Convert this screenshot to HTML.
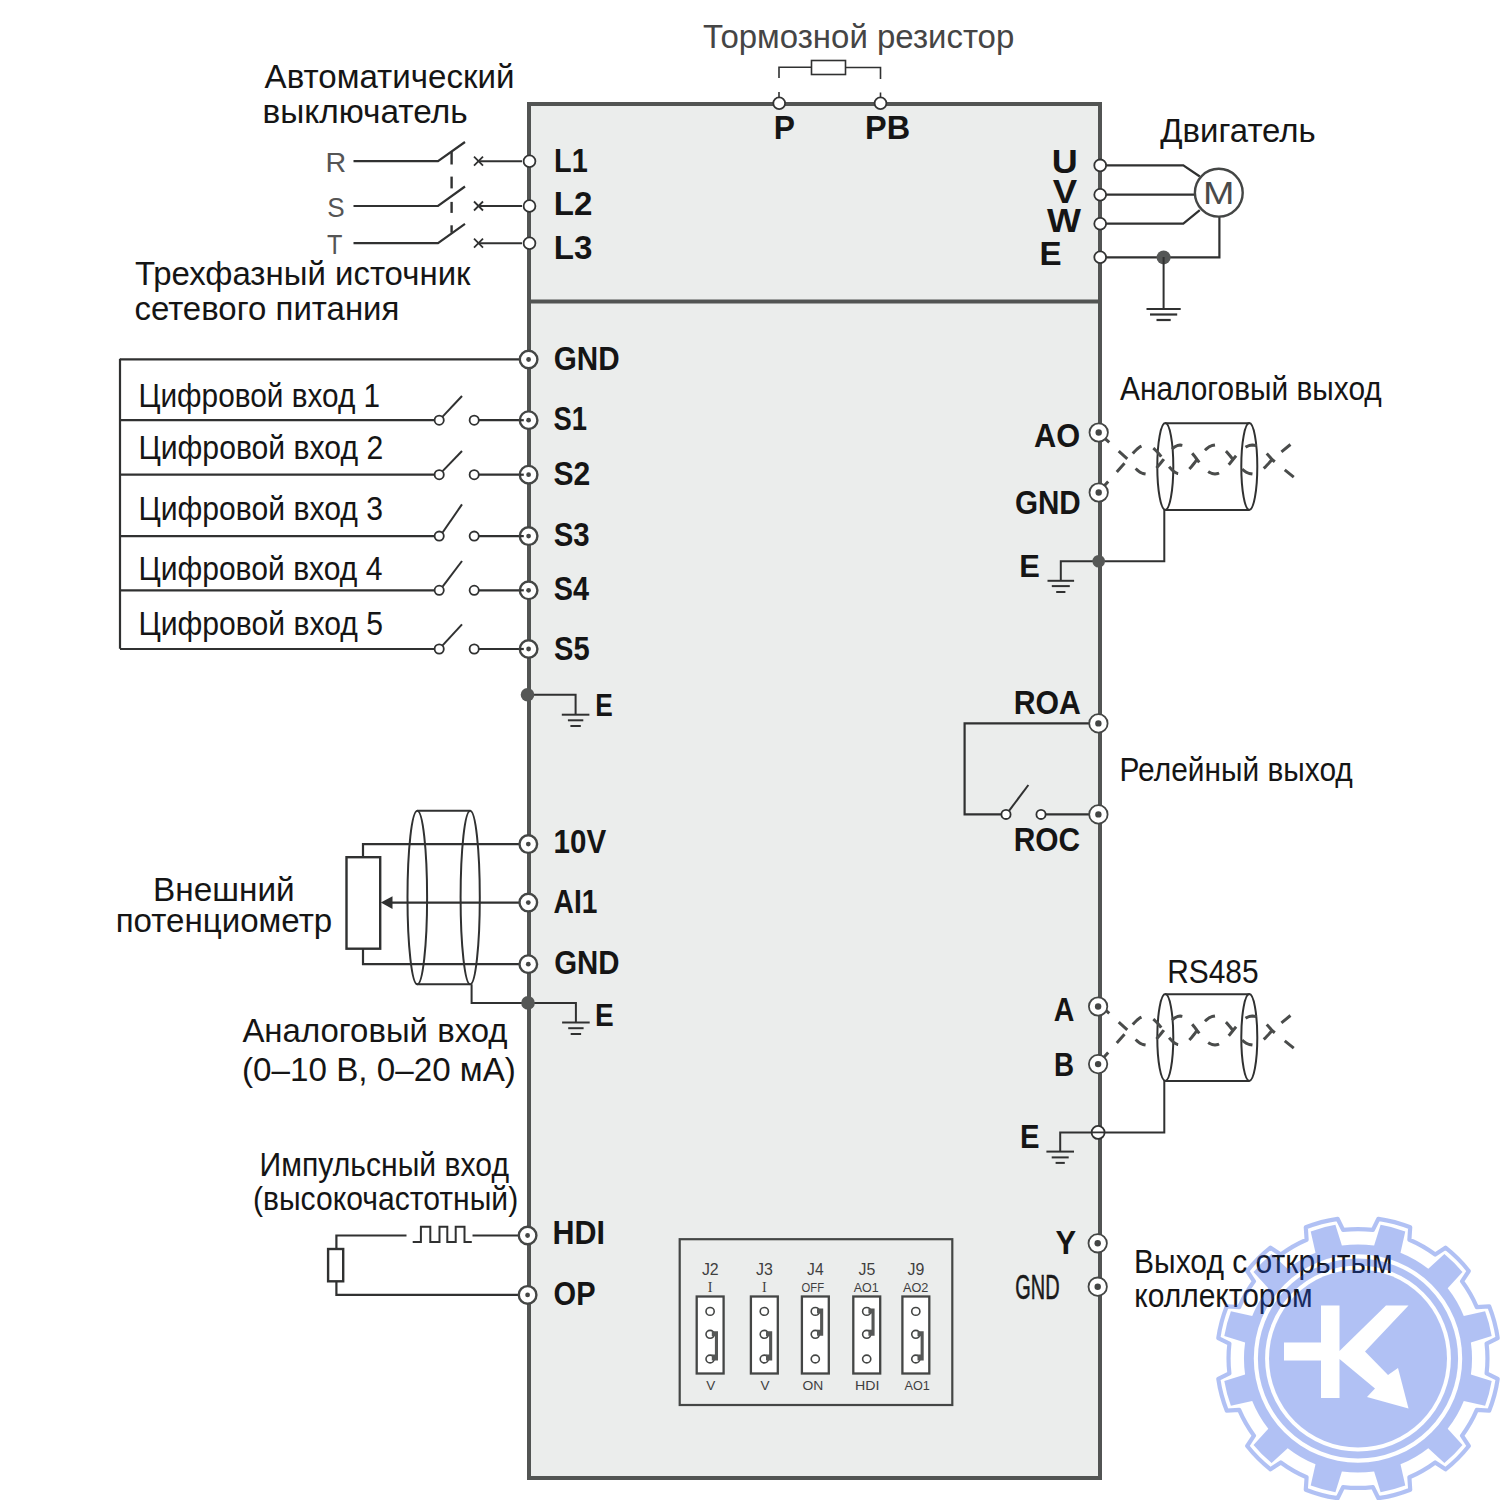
<!DOCTYPE html>
<html><head><meta charset="utf-8"><style>
html,body{margin:0;padding:0;background:#fff;}
svg{display:block;}
text{font-family:"Liberation Sans",sans-serif;}
</style></head><body>
<svg width="1500" height="1500" viewBox="0 0 1500 1500">
<rect x="529" y="104" width="571" height="1374" fill="#ebedec" stroke="#525453" stroke-width="4"/>
<path d="M531.0,301.5 L1098.0,301.5" fill="none" stroke="#525453" stroke-width="4"/>
<text x="702.9" y="47.5" font-size="33" font-weight="normal" fill="#454545" textLength="311.4" lengthAdjust="spacingAndGlyphs">Тормозной резистор</text>
<path d="M779.0,92.0 L779.0,103.0" fill="none" stroke="#303131" stroke-width="1.6"/>
<path d="M779.0,78.0 L779.0,67.3 L811.5,67.3" fill="none" stroke="#303131" stroke-width="1.6"/>
<rect x="811.5" y="60.5" width="34" height="14" fill="#fff" stroke="#303131" stroke-width="1.6"/>
<path d="M845.5,67.5 L880.5,67.5 L880.5,79.0" fill="none" stroke="#303131" stroke-width="1.6"/>
<path d="M880.5,92.5 L880.5,103.0" fill="none" stroke="#303131" stroke-width="1.6"/>
<circle cx="779.2" cy="103.3" r="5.9" fill="#fff" stroke="#333434" stroke-width="1.8"/>
<circle cx="880.5" cy="103.3" r="5.9" fill="#fff" stroke="#333434" stroke-width="1.8"/>
<text x="773.8" y="139.0" font-size="33" font-weight="bold" fill="#151515" textLength="21.2" lengthAdjust="spacingAndGlyphs">P</text>
<text x="865.0" y="139.0" font-size="33" font-weight="bold" fill="#151515" textLength="45.1" lengthAdjust="spacingAndGlyphs">PB</text>
<text x="264.6" y="87.6" font-size="33" font-weight="normal" fill="#151515" textLength="249.8" lengthAdjust="spacingAndGlyphs">Автоматический</text>
<text x="262.5" y="123.0" font-size="33" font-weight="normal" fill="#151515" textLength="205.1" lengthAdjust="spacingAndGlyphs">выключатель</text>
<text x="325.6" y="172.0" font-size="27" font-weight="normal" fill="#555" textLength="20.7" lengthAdjust="spacingAndGlyphs">R</text>
<text x="327.3" y="216.5" font-size="27" font-weight="normal" fill="#555" textLength="17.4" lengthAdjust="spacingAndGlyphs">S</text>
<text x="327.0" y="253.5" font-size="27" font-weight="normal" fill="#555" textLength="15.4" lengthAdjust="spacingAndGlyphs">T</text>
<path d="M353.5,161.2 L438.0,161.2 L465.0,142.0" fill="none" stroke="#303131" stroke-width="2.2"/>
<path d="M474.0,156.7 L483.0,165.7" fill="none" stroke="#303131" stroke-width="1.8"/>
<path d="M474.0,165.7 L483.0,156.7" fill="none" stroke="#303131" stroke-width="1.8"/>
<path d="M478.5,161.2 L522.0,161.2" fill="none" stroke="#303131" stroke-width="2"/>
<path d="M353.5,206.0 L438.0,206.0 L465.0,186.5" fill="none" stroke="#303131" stroke-width="2.2"/>
<path d="M474.0,201.5 L483.0,210.5" fill="none" stroke="#303131" stroke-width="1.8"/>
<path d="M474.0,210.5 L483.0,201.5" fill="none" stroke="#303131" stroke-width="1.8"/>
<path d="M478.5,206.0 L522.0,206.0" fill="none" stroke="#303131" stroke-width="2"/>
<path d="M353.5,243.2 L438.0,243.2 L465.0,223.9" fill="none" stroke="#303131" stroke-width="2.2"/>
<path d="M474.0,238.7 L483.0,247.7" fill="none" stroke="#303131" stroke-width="1.8"/>
<path d="M474.0,247.7 L483.0,238.7" fill="none" stroke="#303131" stroke-width="1.8"/>
<path d="M478.5,243.2 L522.0,243.2" fill="none" stroke="#303131" stroke-width="2"/>
<path d="M451.6,152.0 L451.6,164.5" fill="none" stroke="#303131" stroke-width="2.4"/>
<path d="M451.6,176.6 L451.6,188.4" fill="none" stroke="#303131" stroke-width="2.4"/>
<path d="M451.6,201.9 L451.6,212.9" fill="none" stroke="#303131" stroke-width="2.4"/>
<path d="M451.6,225.3 L451.6,232.7" fill="none" stroke="#303131" stroke-width="2.4"/>
<text x="134.9" y="285.0" font-size="33" font-weight="normal" fill="#151515" textLength="335.6" lengthAdjust="spacingAndGlyphs">Трехфазный источник</text>
<text x="134.4" y="320.0" font-size="33" font-weight="normal" fill="#151515" textLength="265.0" lengthAdjust="spacingAndGlyphs">сетевого питания</text>
<circle cx="529.5" cy="161.2" r="5.9" fill="#fff" stroke="#333434" stroke-width="1.8"/>
<circle cx="529.5" cy="206.0" r="5.9" fill="#fff" stroke="#333434" stroke-width="1.8"/>
<circle cx="529.5" cy="243.2" r="5.9" fill="#fff" stroke="#333434" stroke-width="1.8"/>
<text x="554.1" y="171.8" font-size="33" font-weight="bold" fill="#151515" textLength="33.7" lengthAdjust="spacingAndGlyphs">L1</text>
<text x="553.8" y="215.4" font-size="33" font-weight="bold" fill="#151515" textLength="38.6" lengthAdjust="spacingAndGlyphs">L2</text>
<text x="553.8" y="259.3" font-size="33" font-weight="bold" fill="#151515" textLength="38.6" lengthAdjust="spacingAndGlyphs">L3</text>
<text x="1160.3" y="142.0" font-size="33" font-weight="normal" fill="#151515" textLength="155.4" lengthAdjust="spacingAndGlyphs">Двигатель</text>
<path d="M1100.0,165.4 L1183.3,165.4 L1199.8,176.5" fill="none" stroke="#303131" stroke-width="2.2"/>
<path d="M1100.0,194.7 L1194.9,194.7" fill="none" stroke="#303131" stroke-width="2.2"/>
<path d="M1100.0,223.7 L1183.3,223.7 L1199.8,210.2" fill="none" stroke="#303131" stroke-width="2.2"/>
<path d="M1219.4,216.6 L1219.4,257.4 L1100.0,257.4" fill="none" stroke="#303131" stroke-width="2.2"/>
<circle cx="1218.8" cy="192.7" r="23.9" fill="#fff" stroke="#444645" stroke-width="2.4"/>
<text x="1203.0" y="204.3" font-size="31" font-weight="normal" fill="#4a4a4a" textLength="31.4" lengthAdjust="spacingAndGlyphs">M</text>
<circle cx="1163.6" cy="257.4" r="7" fill="#555756" stroke="none" stroke-width="0"/>
<path d="M1163.6,257.0 L1163.6,309.0" fill="none" stroke="#303131" stroke-width="2"/>
<path d="M1146.5,309.0 L1180.7,309.0" fill="none" stroke="#303131" stroke-width="2.2"/>
<path d="M1150.0,314.5 L1177.2,314.5" fill="none" stroke="#303131" stroke-width="2.2"/>
<path d="M1156.5,320.0 L1170.7,320.0" fill="none" stroke="#303131" stroke-width="2.2"/>
<circle cx="1100.2" cy="165.4" r="5.9" fill="#fff" stroke="#333434" stroke-width="1.8"/>
<circle cx="1100.2" cy="194.7" r="5.9" fill="#fff" stroke="#333434" stroke-width="1.8"/>
<circle cx="1100.2" cy="223.7" r="5.9" fill="#fff" stroke="#333434" stroke-width="1.8"/>
<circle cx="1100.2" cy="257.3" r="5.9" fill="#fff" stroke="#333434" stroke-width="1.8"/>
<text x="1051.8" y="173.0" font-size="33" font-weight="bold" fill="#151515" textLength="26.0" lengthAdjust="spacingAndGlyphs">U</text>
<text x="1052.7" y="203.0" font-size="33" font-weight="bold" fill="#151515" textLength="24.4" lengthAdjust="spacingAndGlyphs">V</text>
<text x="1046.9" y="232.0" font-size="33" font-weight="bold" fill="#151515" textLength="34.0" lengthAdjust="spacingAndGlyphs">W</text>
<text x="1039.4" y="265.4" font-size="33" font-weight="bold" fill="#151515" textLength="22.1" lengthAdjust="spacingAndGlyphs">E</text>
<path d="M120.0,358.8 L120.0,648.7" fill="none" stroke="#303131" stroke-width="2.2"/>
<path d="M120.0,359.3 L519.0,359.3" fill="none" stroke="#303131" stroke-width="2.2"/>
<text x="553.8" y="370.4" font-size="33" font-weight="bold" fill="#151515" textLength="65.8" lengthAdjust="spacingAndGlyphs">GND</text>
<path d="M120.0,420.2 L434.5,420.2" fill="none" stroke="#303131" stroke-width="2.2"/>
<path d="M442.6,416.6 L462.0,396.0" fill="none" stroke="#303131" stroke-width="2"/>
<circle cx="439.2" cy="420.2" r="4.6" fill="#fff" stroke="#303131" stroke-width="1.8"/>
<circle cx="474.2" cy="420.2" r="4.6" fill="#fff" stroke="#303131" stroke-width="1.8"/>
<path d="M478.8,420.2 L527.0,420.2" fill="none" stroke="#303131" stroke-width="2.2"/>
<text x="138.4" y="407.1" font-size="33" font-weight="normal" fill="#151515" textLength="241.8" lengthAdjust="spacingAndGlyphs">Цифровой вход 1</text>
<path d="M120.0,474.7 L434.5,474.7" fill="none" stroke="#303131" stroke-width="2.2"/>
<path d="M442.6,471.1 L462.0,451.0" fill="none" stroke="#303131" stroke-width="2"/>
<circle cx="439.2" cy="474.7" r="4.6" fill="#fff" stroke="#303131" stroke-width="1.8"/>
<circle cx="474.2" cy="474.7" r="4.6" fill="#fff" stroke="#303131" stroke-width="1.8"/>
<path d="M478.8,474.7 L527.0,474.7" fill="none" stroke="#303131" stroke-width="2.2"/>
<text x="138.4" y="458.9" font-size="33" font-weight="normal" fill="#151515" textLength="244.8" lengthAdjust="spacingAndGlyphs">Цифровой вход 2</text>
<path d="M120.0,536.1 L434.5,536.1" fill="none" stroke="#303131" stroke-width="2.2"/>
<path d="M442.6,532.5 L462.0,504.4" fill="none" stroke="#303131" stroke-width="2"/>
<circle cx="439.2" cy="536.1" r="4.6" fill="#fff" stroke="#303131" stroke-width="1.8"/>
<circle cx="474.2" cy="536.1" r="4.6" fill="#fff" stroke="#303131" stroke-width="1.8"/>
<path d="M478.8,536.1 L527.0,536.1" fill="none" stroke="#303131" stroke-width="2.2"/>
<text x="138.4" y="520.0" font-size="33" font-weight="normal" fill="#151515" textLength="244.6" lengthAdjust="spacingAndGlyphs">Цифровой вход 3</text>
<path d="M120.0,590.3 L434.5,590.3" fill="none" stroke="#303131" stroke-width="2.2"/>
<path d="M442.6,586.7 L462.0,561.0" fill="none" stroke="#303131" stroke-width="2"/>
<circle cx="439.2" cy="590.3" r="4.6" fill="#fff" stroke="#303131" stroke-width="1.8"/>
<circle cx="474.2" cy="590.3" r="4.6" fill="#fff" stroke="#303131" stroke-width="1.8"/>
<path d="M478.8,590.3 L527.0,590.3" fill="none" stroke="#303131" stroke-width="2.2"/>
<text x="138.4" y="579.6" font-size="33" font-weight="normal" fill="#151515" textLength="244.1" lengthAdjust="spacingAndGlyphs">Цифровой вход 4</text>
<path d="M120.0,649.0 L434.5,649.0" fill="none" stroke="#303131" stroke-width="2.2"/>
<path d="M442.6,645.4 L462.0,624.4" fill="none" stroke="#303131" stroke-width="2"/>
<circle cx="439.2" cy="649.0" r="4.6" fill="#fff" stroke="#303131" stroke-width="1.8"/>
<circle cx="474.2" cy="649.0" r="4.6" fill="#fff" stroke="#303131" stroke-width="1.8"/>
<path d="M478.8,649.0 L527.0,649.0" fill="none" stroke="#303131" stroke-width="2.2"/>
<text x="138.4" y="634.7" font-size="33" font-weight="normal" fill="#151515" textLength="244.6" lengthAdjust="spacingAndGlyphs">Цифровой вход 5</text>
<circle cx="528.6" cy="359.5" r="8.8" fill="#fff" stroke="#444645" stroke-width="2.4"/>
<circle cx="528.6" cy="359.5" r="2.4" fill="#444645" stroke="none" stroke-width="0"/>
<circle cx="528.6" cy="420.2" r="8.8" fill="#fff" stroke="#444645" stroke-width="2.4"/>
<circle cx="528.6" cy="420.2" r="2.4" fill="#444645" stroke="none" stroke-width="0"/>
<path d="M519.8,420.2 L523.8,420.2" fill="none" stroke="#303131" stroke-width="2.2"/>
<circle cx="528.6" cy="474.7" r="8.8" fill="#fff" stroke="#444645" stroke-width="2.4"/>
<circle cx="528.6" cy="474.7" r="2.4" fill="#444645" stroke="none" stroke-width="0"/>
<path d="M519.8,474.7 L523.8,474.7" fill="none" stroke="#303131" stroke-width="2.2"/>
<circle cx="528.6" cy="536.1" r="8.8" fill="#fff" stroke="#444645" stroke-width="2.4"/>
<circle cx="528.6" cy="536.1" r="2.4" fill="#444645" stroke="none" stroke-width="0"/>
<path d="M519.8,536.1 L523.8,536.1" fill="none" stroke="#303131" stroke-width="2.2"/>
<circle cx="528.6" cy="590.3" r="8.8" fill="#fff" stroke="#444645" stroke-width="2.4"/>
<circle cx="528.6" cy="590.3" r="2.4" fill="#444645" stroke="none" stroke-width="0"/>
<path d="M519.8,590.3 L523.8,590.3" fill="none" stroke="#303131" stroke-width="2.2"/>
<circle cx="528.6" cy="649.0" r="8.8" fill="#fff" stroke="#444645" stroke-width="2.4"/>
<circle cx="528.6" cy="649.0" r="2.4" fill="#444645" stroke="none" stroke-width="0"/>
<path d="M519.8,649.0 L523.8,649.0" fill="none" stroke="#303131" stroke-width="2.2"/>
<text x="553.6" y="430.3" font-size="33" font-weight="bold" fill="#151515" textLength="33.5" lengthAdjust="spacingAndGlyphs">S1</text>
<text x="553.5" y="485.0" font-size="33" font-weight="bold" fill="#151515" textLength="36.8" lengthAdjust="spacingAndGlyphs">S2</text>
<text x="553.8" y="545.5" font-size="33" font-weight="bold" fill="#151515" textLength="35.9" lengthAdjust="spacingAndGlyphs">S3</text>
<text x="553.8" y="600.0" font-size="33" font-weight="bold" fill="#151515" textLength="35.3" lengthAdjust="spacingAndGlyphs">S4</text>
<text x="554.1" y="659.5" font-size="33" font-weight="bold" fill="#151515" textLength="35.6" lengthAdjust="spacingAndGlyphs">S5</text>
<path d="M527.0,694.7 L575.6,694.7 L575.6,714.7" fill="none" stroke="#303131" stroke-width="2"/>
<path d="M561.8,714.7 L589.4,714.7" fill="none" stroke="#303131" stroke-width="2"/>
<path d="M567.9,720.3 L583.3,720.3" fill="none" stroke="#303131" stroke-width="2"/>
<path d="M570.4,726.0 L580.8,726.0" fill="none" stroke="#303131" stroke-width="2"/>
<circle cx="527.5" cy="694.7" r="6.8" fill="#555756" stroke="none" stroke-width="0"/>
<text x="595.3" y="716.4" font-size="31.5" font-weight="bold" fill="#151515" textLength="17.5" lengthAdjust="spacingAndGlyphs">E</text>
<path d="M417.3,810.7 L470.2,810.7 M417.3,984.3 L470.2,984.3" stroke="#303131" stroke-width="2" fill="none"/>
<ellipse cx="417.3" cy="897.5" rx="9.8" ry="86.8" fill="none" stroke="#303131" stroke-width="2"/>
<ellipse cx="470.2" cy="897.5" rx="9.6" ry="86.8" fill="none" stroke="#303131" stroke-width="2"/>
<path d="M363.0,857.2 L363.0,844.1 L520.0,844.1" fill="none" stroke="#303131" stroke-width="2.2"/>
<path d="M363.0,948.7 L363.0,964.2 L520.0,964.2" fill="none" stroke="#303131" stroke-width="2.2"/>
<path d="M392.0,902.6 L520.0,902.6" fill="none" stroke="#303131" stroke-width="2.2"/>
<path d="M380.8,902.6 L392.5,896.2 L392.5,909 Z" fill="#303131"/>
<rect x="346.5" y="857.2" width="33.7" height="91.5" fill="#fff" stroke="#303131" stroke-width="2.4"/>
<path d="M471.6,984.3 L471.6,1002.9 L527.0,1002.9" fill="none" stroke="#303131" stroke-width="2"/>
<path d="M527.0,1002.9 L575.9,1002.9 L575.9,1022.5" fill="none" stroke="#303131" stroke-width="2"/>
<path d="M562.1,1022.5 L589.7,1022.5" fill="none" stroke="#303131" stroke-width="2"/>
<path d="M568.2,1028.2 L583.6,1028.2" fill="none" stroke="#303131" stroke-width="2"/>
<path d="M570.7,1034.0 L581.1,1034.0" fill="none" stroke="#303131" stroke-width="2"/>
<circle cx="528.0" cy="1002.9" r="6.8" fill="#555756" stroke="none" stroke-width="0"/>
<circle cx="528.3" cy="844.1" r="8.8" fill="#fff" stroke="#444645" stroke-width="2.4"/>
<circle cx="528.3" cy="844.1" r="2.4" fill="#444645" stroke="none" stroke-width="0"/>
<circle cx="528.3" cy="902.6" r="8.8" fill="#fff" stroke="#444645" stroke-width="2.4"/>
<circle cx="528.3" cy="902.6" r="2.4" fill="#444645" stroke="none" stroke-width="0"/>
<circle cx="528.3" cy="964.2" r="8.8" fill="#fff" stroke="#444645" stroke-width="2.4"/>
<circle cx="528.3" cy="964.2" r="2.4" fill="#444645" stroke="none" stroke-width="0"/>
<text x="553.5" y="853.0" font-size="33" font-weight="bold" fill="#151515" textLength="52.6" lengthAdjust="spacingAndGlyphs">10V</text>
<text x="553.6" y="913.0" font-size="33" font-weight="bold" fill="#151515" textLength="43.8" lengthAdjust="spacingAndGlyphs">AI1</text>
<text x="554.2" y="973.9" font-size="33" font-weight="bold" fill="#151515" textLength="65.3" lengthAdjust="spacingAndGlyphs">GND</text>
<text x="595.0" y="1025.6" font-size="31.5" font-weight="bold" fill="#151515" textLength="18.7" lengthAdjust="spacingAndGlyphs">E</text>
<text x="153.0" y="900.7" font-size="33" font-weight="normal" fill="#151515" textLength="141.7" lengthAdjust="spacingAndGlyphs">Внешний</text>
<text x="115.7" y="931.7" font-size="33" font-weight="normal" fill="#151515" textLength="216.5" lengthAdjust="spacingAndGlyphs">потенциометр</text>
<text x="242.4" y="1042.0" font-size="33" font-weight="normal" fill="#151515" textLength="265.2" lengthAdjust="spacingAndGlyphs">Аналоговый вход</text>
<text x="242.0" y="1080.5" font-size="33" font-weight="normal" fill="#151515" textLength="273.9" lengthAdjust="spacingAndGlyphs">(0–10 В, 0–20 мА)</text>
<text x="259.6" y="1175.6" font-size="33" font-weight="normal" fill="#151515" textLength="249.4" lengthAdjust="spacingAndGlyphs">Импульсный вход</text>
<text x="252.9" y="1210.0" font-size="33" font-weight="normal" fill="#151515" textLength="265.3" lengthAdjust="spacingAndGlyphs">(высокочастотный)</text>
<path d="M472.5,1235.5 L520.0,1235.5" fill="none" stroke="#303131" stroke-width="2.2"/>
<path d="M406.5,1235.5 L336.4,1235.5 L336.4,1249.0" fill="none" stroke="#303131" stroke-width="2.2"/>
<path d="M336.4,1281.3 L336.4,1294.9 L520.0,1294.9" fill="none" stroke="#303131" stroke-width="2.2"/>
<rect x="328.1" y="1249" width="15.1" height="32.3" fill="#fff" stroke="#303131" stroke-width="2.4"/>
<path d="M412.7,1242.1 L420.9,1242.1 L420.9,1226.7 L430.3,1226.7 L430.3,1242.1 L439.5,1242.1 L439.5,1226.7 L447.3,1226.7 L447.3,1242.1 L455.7,1242.1 L455.7,1226.7 L464.5,1226.7 L464.5,1242.1 L471.8,1242.1" fill="none" stroke="#303131" stroke-width="2"/>
<circle cx="527.6" cy="1235.5" r="8.8" fill="#fff" stroke="#444645" stroke-width="2.4"/>
<circle cx="527.6" cy="1235.5" r="2.4" fill="#444645" stroke="none" stroke-width="0"/>
<circle cx="527.6" cy="1294.9" r="8.8" fill="#fff" stroke="#444645" stroke-width="2.4"/>
<circle cx="527.6" cy="1294.9" r="2.4" fill="#444645" stroke="none" stroke-width="0"/>
<text x="552.6" y="1244.0" font-size="33" font-weight="bold" fill="#151515" textLength="52.5" lengthAdjust="spacingAndGlyphs">HDI</text>
<text x="553.6" y="1304.6" font-size="33" font-weight="bold" fill="#151515" textLength="41.9" lengthAdjust="spacingAndGlyphs">OP</text>
<rect x="679.7" y="1239.2" width="272.6" height="165.8" fill="none" stroke="#444645" stroke-width="2.2"/>
<rect x="696.7" y="1296.5" width="26.9" height="77" fill="#fff" stroke="#444645" stroke-width="2.3"/>
<ellipse cx="710.1" cy="1311.4" rx="4.1" ry="3.9" fill="#fff" stroke="#444645" stroke-width="1.6"/>
<ellipse cx="710.1" cy="1334.3" rx="4.1" ry="3.9" fill="#fff" stroke="#444645" stroke-width="1.6"/>
<ellipse cx="710.1" cy="1359" rx="4.1" ry="3.9" fill="#fff" stroke="#444645" stroke-width="1.6"/>
<path d="M711.8,1331.3 H718.0 V1360.5 H711.8 V1354.5 H714.9 V1336.3 H711.8 Z" fill="#555756"/>
<text x="701.9" y="1274.7" font-size="16.5" font-weight="normal" fill="#3f3f3f" textLength="16.8" lengthAdjust="spacingAndGlyphs">J2</text>
<rect x="750.9" y="1296.5" width="26.9" height="77" fill="#fff" stroke="#444645" stroke-width="2.3"/>
<ellipse cx="764.3" cy="1311.4" rx="4.1" ry="3.9" fill="#fff" stroke="#444645" stroke-width="1.6"/>
<ellipse cx="764.3" cy="1334.3" rx="4.1" ry="3.9" fill="#fff" stroke="#444645" stroke-width="1.6"/>
<ellipse cx="764.3" cy="1359" rx="4.1" ry="3.9" fill="#fff" stroke="#444645" stroke-width="1.6"/>
<path d="M766.0,1331.3 H772.2 V1360.5 H766.0 V1354.5 H769.1 V1336.3 H766.0 Z" fill="#555756"/>
<text x="756.1" y="1274.7" font-size="16.5" font-weight="normal" fill="#3f3f3f" textLength="16.8" lengthAdjust="spacingAndGlyphs">J3</text>
<rect x="801.9" y="1296.5" width="26.9" height="77" fill="#fff" stroke="#444645" stroke-width="2.3"/>
<ellipse cx="815.3" cy="1311.4" rx="4.1" ry="3.9" fill="#fff" stroke="#444645" stroke-width="1.6"/>
<ellipse cx="815.3" cy="1334.3" rx="4.1" ry="3.9" fill="#fff" stroke="#444645" stroke-width="1.6"/>
<ellipse cx="815.3" cy="1359" rx="4.1" ry="3.9" fill="#fff" stroke="#444645" stroke-width="1.6"/>
<path d="M817.0,1308.4 H823.2 V1335.8 H817.0 V1329.8 H820.1 V1313.4 H817.0 Z" fill="#555756"/>
<text x="807.1" y="1274.7" font-size="16.5" font-weight="normal" fill="#3f3f3f" textLength="16.5" lengthAdjust="spacingAndGlyphs">J4</text>
<rect x="853.3" y="1296.5" width="26.9" height="77" fill="#fff" stroke="#444645" stroke-width="2.3"/>
<ellipse cx="866.7" cy="1311.4" rx="4.1" ry="3.9" fill="#fff" stroke="#444645" stroke-width="1.6"/>
<ellipse cx="866.7" cy="1334.3" rx="4.1" ry="3.9" fill="#fff" stroke="#444645" stroke-width="1.6"/>
<ellipse cx="866.7" cy="1359" rx="4.1" ry="3.9" fill="#fff" stroke="#444645" stroke-width="1.6"/>
<path d="M868.4,1308.4 H874.6 V1335.8 H868.4 V1329.8 H871.5 V1313.4 H868.4 Z" fill="#555756"/>
<text x="858.5" y="1274.7" font-size="16.5" font-weight="normal" fill="#3f3f3f" textLength="16.8" lengthAdjust="spacingAndGlyphs">J5</text>
<rect x="902.4" y="1296.5" width="26.9" height="77" fill="#fff" stroke="#444645" stroke-width="2.3"/>
<ellipse cx="915.8" cy="1311.4" rx="4.1" ry="3.9" fill="#fff" stroke="#444645" stroke-width="1.6"/>
<ellipse cx="915.8" cy="1334.3" rx="4.1" ry="3.9" fill="#fff" stroke="#444645" stroke-width="1.6"/>
<ellipse cx="915.8" cy="1359" rx="4.1" ry="3.9" fill="#fff" stroke="#444645" stroke-width="1.6"/>
<path d="M917.5,1331.3 H923.7 V1360.5 H917.5 V1354.5 H920.6 V1336.3 H917.5 Z" fill="#555756"/>
<text x="907.6" y="1274.7" font-size="16.5" font-weight="normal" fill="#3f3f3f" textLength="16.8" lengthAdjust="spacingAndGlyphs">J9</text>
<text x="710.1" y="1292.3" font-size="14" font-family="Liberation Serif" fill="#3f3f3f" text-anchor="middle" style="font-family:Liberation Serif">I</text>
<text x="764.3" y="1292.3" font-size="14" font-family="Liberation Serif" fill="#3f3f3f" text-anchor="middle" style="font-family:Liberation Serif">I</text>
<text x="801.6" y="1291.6" font-size="13.7" font-weight="normal" fill="#3f3f3f" textLength="22.5" lengthAdjust="spacingAndGlyphs">OFF</text>
<text x="853.7" y="1291.6" font-size="13.7" font-weight="normal" fill="#3f3f3f" textLength="24.9" lengthAdjust="spacingAndGlyphs">AO1</text>
<text x="903.0" y="1291.6" font-size="13.7" font-weight="normal" fill="#3f3f3f" textLength="25.4" lengthAdjust="spacingAndGlyphs">AO2</text>
<text x="706.2" y="1390.1" font-size="13.7" font-weight="normal" fill="#3f3f3f" textLength="9.0" lengthAdjust="spacingAndGlyphs">V</text>
<text x="760.4" y="1390.1" font-size="13.7" font-weight="normal" fill="#3f3f3f" textLength="9.0" lengthAdjust="spacingAndGlyphs">V</text>
<text x="802.5" y="1390.1" font-size="13.7" font-weight="normal" fill="#3f3f3f" textLength="20.8" lengthAdjust="spacingAndGlyphs">ON</text>
<text x="855.0" y="1390.1" font-size="13.7" font-weight="normal" fill="#3f3f3f" textLength="24.4" lengthAdjust="spacingAndGlyphs">HDI</text>
<text x="904.5" y="1390.1" font-size="13.7" font-weight="normal" fill="#3f3f3f" textLength="25.3" lengthAdjust="spacingAndGlyphs">AO1</text>
<text x="1120.0" y="400.0" font-size="33" font-weight="normal" fill="#151515" textLength="261.8" lengthAdjust="spacingAndGlyphs">Аналоговый выход</text>
<path d="M1165.3,423.2 L1249.3,423.2 M1165.3,509.9 L1249.3,509.9" stroke="#303131" stroke-width="2" fill="none"/>
<ellipse cx="1165.3" cy="466.5" rx="8" ry="43.4" fill="none" stroke="#303131" stroke-width="2"/>
<ellipse cx="1249.3" cy="466.5" rx="8" ry="43.4" fill="none" stroke="#303131" stroke-width="2"/>
<path d="M1098.3,432.5 L1128.0,459.5 L1131.0,463.3 L1133.9,466.8 L1136.9,469.8 L1139.8,472.1 L1142.8,473.5 L1145.8,474.0 L1148.7,473.5 L1151.7,472.1 L1154.6,469.8 L1157.6,466.8 L1160.5,463.3 L1163.5,459.5 L1166.3,455.7 L1169.1,452.2 L1171.9,449.2 L1174.7,446.9 L1177.5,445.5 L1180.2,445.0 L1183.0,445.5 L1185.8,446.9 L1188.6,449.2 L1191.4,452.2 L1194.2,455.7 L1197.0,459.5 L1200.0,463.3 L1203.0,466.8 L1206.0,469.8 L1209.0,472.1 L1212.0,473.5 L1215.0,474.0 L1218.0,473.5 L1221.0,472.1 L1224.0,469.8 L1227.0,466.8 L1230.0,463.3 L1233.0,459.5 L1236.2,455.7 L1239.5,452.2 L1242.8,449.2 L1246.0,446.9 L1249.2,445.5 L1252.5,445.0 L1255.8,445.5 L1259.0,446.9 L1262.2,449.2 L1265.5,452.2 L1268.8,455.7 L1272.0,459.5 L1298.5,481.0" fill="none" stroke="#4a4c4b" stroke-width="3" stroke-dasharray="11.6 12.8" stroke-dashoffset="21.2" stroke-linejoin="round"/>
<path d="M1098.3,492.5 L1128.0,459.5 L1131.0,455.7 L1133.9,452.2 L1136.9,449.2 L1139.8,446.9 L1142.8,445.5 L1145.8,445.0 L1148.7,445.5 L1151.7,446.9 L1154.6,449.2 L1157.6,452.2 L1160.5,455.7 L1163.5,459.5 L1166.3,463.3 L1169.1,466.8 L1171.9,469.8 L1174.7,472.1 L1177.5,473.5 L1180.2,474.0 L1183.0,473.5 L1185.8,472.1 L1188.6,469.8 L1191.4,466.8 L1194.2,463.3 L1197.0,459.5 L1200.0,455.7 L1203.0,452.2 L1206.0,449.2 L1209.0,446.9 L1212.0,445.5 L1215.0,445.0 L1218.0,445.5 L1221.0,446.9 L1224.0,449.2 L1227.0,452.2 L1230.0,455.7 L1233.0,459.5 L1236.2,463.3 L1239.5,466.8 L1242.8,469.8 L1246.0,472.1 L1249.2,473.5 L1252.5,474.0 L1255.8,473.5 L1259.0,472.1 L1262.2,469.8 L1265.5,466.8 L1268.8,463.3 L1272.0,459.5 L1298.5,438.0" fill="none" stroke="#4a4c4b" stroke-width="3" stroke-dasharray="11.6 12.8" stroke-dashoffset="21.2" stroke-linejoin="round"/>
<path d="M1164.3,509.9 L1164.3,561.3 L1100.0,561.3" fill="none" stroke="#303131" stroke-width="2"/>
<path d="M1100.0,561.3 L1060.8,561.3 L1060.8,580.8" fill="none" stroke="#303131" stroke-width="2"/>
<path d="M1047.5,580.8 L1074.1,580.8" fill="none" stroke="#303131" stroke-width="2"/>
<path d="M1051.8,586.1 L1069.8,586.1" fill="none" stroke="#303131" stroke-width="2"/>
<path d="M1056.2,592.0 L1065.4,592.0" fill="none" stroke="#303131" stroke-width="2"/>
<circle cx="1098.7" cy="561.3" r="6.3" fill="#555756" stroke="none" stroke-width="0"/>
<circle cx="1098.7" cy="432.5" r="9.2" fill="#fff" stroke="#444645" stroke-width="1.8"/>
<circle cx="1098.7" cy="432.5" r="3.2" fill="#444645" stroke="none" stroke-width="0"/>
<circle cx="1098.7" cy="492.5" r="9.2" fill="#fff" stroke="#444645" stroke-width="1.8"/>
<circle cx="1098.7" cy="492.5" r="3.2" fill="#444645" stroke="none" stroke-width="0"/>
<text x="1034.0" y="446.7" font-size="33" font-weight="bold" fill="#151515" textLength="46.1" lengthAdjust="spacingAndGlyphs">AO</text>
<text x="1014.9" y="514.1" font-size="33" font-weight="bold" fill="#151515" textLength="65.8" lengthAdjust="spacingAndGlyphs">GND</text>
<text x="1019.3" y="577.3" font-size="31.5" font-weight="bold" fill="#151515" textLength="20.6" lengthAdjust="spacingAndGlyphs">E</text>
<path d="M1090.0,723.4 L964.6,723.4 L964.6,814.4 L1001.4,814.4" fill="none" stroke="#303131" stroke-width="2.2"/>
<circle cx="1006.0" cy="814.4" r="4.6" fill="#fff" stroke="#303131" stroke-width="1.8"/>
<path d="M1009.0,810.8 L1028.4,785.0" fill="none" stroke="#303131" stroke-width="2"/>
<circle cx="1041.0" cy="814.4" r="4.6" fill="#fff" stroke="#303131" stroke-width="1.8"/>
<path d="M1045.6,814.4 L1090.0,814.4" fill="none" stroke="#303131" stroke-width="2.2"/>
<circle cx="1098.4" cy="723.4" r="9.2" fill="#fff" stroke="#444645" stroke-width="1.8"/>
<circle cx="1098.4" cy="723.4" r="3.2" fill="#444645" stroke="none" stroke-width="0"/>
<circle cx="1098.4" cy="814.4" r="9.2" fill="#fff" stroke="#444645" stroke-width="1.8"/>
<circle cx="1098.4" cy="814.4" r="3.2" fill="#444645" stroke="none" stroke-width="0"/>
<text x="1013.7" y="713.6" font-size="33" font-weight="bold" fill="#151515" textLength="67.2" lengthAdjust="spacingAndGlyphs">ROA</text>
<text x="1013.8" y="850.8" font-size="33" font-weight="bold" fill="#151515" textLength="66.4" lengthAdjust="spacingAndGlyphs">ROC</text>
<text x="1119.5" y="780.5" font-size="33" font-weight="normal" fill="#151515" textLength="233.3" lengthAdjust="spacingAndGlyphs">Релейный выход</text>
<text x="1167.2" y="982.8" font-size="33" font-weight="normal" fill="#151515" textLength="91.4" lengthAdjust="spacingAndGlyphs">RS485</text>
<path d="M1165.3,994.2 L1249.3,994.2 M1165.3,1080.9 L1249.3,1080.9" stroke="#303131" stroke-width="2" fill="none"/>
<ellipse cx="1165.3" cy="1037.5" rx="8" ry="43.4" fill="none" stroke="#303131" stroke-width="2"/>
<ellipse cx="1249.3" cy="1037.5" rx="8" ry="43.4" fill="none" stroke="#303131" stroke-width="2"/>
<path d="M1098.3,1003.5 L1128.0,1030.5 L1131.0,1034.3 L1133.9,1037.8 L1136.9,1040.8 L1139.8,1043.1 L1142.8,1044.5 L1145.8,1045.0 L1148.7,1044.5 L1151.7,1043.1 L1154.6,1040.8 L1157.6,1037.8 L1160.5,1034.3 L1163.5,1030.5 L1166.3,1026.7 L1169.1,1023.2 L1171.9,1020.2 L1174.7,1017.9 L1177.5,1016.5 L1180.2,1016.0 L1183.0,1016.5 L1185.8,1017.9 L1188.6,1020.2 L1191.4,1023.2 L1194.2,1026.7 L1197.0,1030.5 L1200.0,1034.3 L1203.0,1037.8 L1206.0,1040.8 L1209.0,1043.1 L1212.0,1044.5 L1215.0,1045.0 L1218.0,1044.5 L1221.0,1043.1 L1224.0,1040.8 L1227.0,1037.8 L1230.0,1034.3 L1233.0,1030.5 L1236.2,1026.7 L1239.5,1023.2 L1242.8,1020.2 L1246.0,1017.9 L1249.2,1016.5 L1252.5,1016.0 L1255.8,1016.5 L1259.0,1017.9 L1262.2,1020.2 L1265.5,1023.2 L1268.8,1026.7 L1272.0,1030.5 L1298.5,1052.0" fill="none" stroke="#4a4c4b" stroke-width="3" stroke-dasharray="11.6 12.8" stroke-dashoffset="21.2" stroke-linejoin="round"/>
<path d="M1098.3,1063.5 L1128.0,1030.5 L1131.0,1026.7 L1133.9,1023.2 L1136.9,1020.2 L1139.8,1017.9 L1142.8,1016.5 L1145.8,1016.0 L1148.7,1016.5 L1151.7,1017.9 L1154.6,1020.2 L1157.6,1023.2 L1160.5,1026.7 L1163.5,1030.5 L1166.3,1034.3 L1169.1,1037.8 L1171.9,1040.8 L1174.7,1043.1 L1177.5,1044.5 L1180.2,1045.0 L1183.0,1044.5 L1185.8,1043.1 L1188.6,1040.8 L1191.4,1037.8 L1194.2,1034.3 L1197.0,1030.5 L1200.0,1026.7 L1203.0,1023.2 L1206.0,1020.2 L1209.0,1017.9 L1212.0,1016.5 L1215.0,1016.0 L1218.0,1016.5 L1221.0,1017.9 L1224.0,1020.2 L1227.0,1023.2 L1230.0,1026.7 L1233.0,1030.5 L1236.2,1034.3 L1239.5,1037.8 L1242.8,1040.8 L1246.0,1043.1 L1249.2,1044.5 L1252.5,1045.0 L1255.8,1044.5 L1259.0,1043.1 L1262.2,1040.8 L1265.5,1037.8 L1268.8,1034.3 L1272.0,1030.5 L1298.5,1009.0" fill="none" stroke="#4a4c4b" stroke-width="3" stroke-dasharray="11.6 12.8" stroke-dashoffset="21.2" stroke-linejoin="round"/>
<path d="M1164.3,1080.6 L1164.3,1132.4 L1104.0,1132.4" fill="none" stroke="#303131" stroke-width="2"/>
<path d="M1092.0,1132.4 L1060.2,1132.4 L1060.2,1151.6" fill="none" stroke="#303131" stroke-width="2"/>
<path d="M1046.4,1151.6 L1074.0,1151.6" fill="none" stroke="#303131" stroke-width="2"/>
<path d="M1051.7,1157.4 L1068.7,1157.4" fill="none" stroke="#303131" stroke-width="2"/>
<path d="M1055.6,1162.9 L1064.8,1162.9" fill="none" stroke="#303131" stroke-width="2"/>
<circle cx="1098.1" cy="1132.4" r="6.5" fill="#fff" stroke="#303131" stroke-width="1.8"/>
<path d="M1091.6,1132.4 L1104.6,1132.4" fill="none" stroke="#303131" stroke-width="1.8"/>
<circle cx="1098.1" cy="1006.5" r="9.2" fill="#fff" stroke="#444645" stroke-width="1.8"/>
<circle cx="1098.1" cy="1006.5" r="3.2" fill="#444645" stroke="none" stroke-width="0"/>
<circle cx="1098.1" cy="1064.1" r="9.2" fill="#fff" stroke="#444645" stroke-width="1.8"/>
<circle cx="1098.1" cy="1064.1" r="3.2" fill="#444645" stroke="none" stroke-width="0"/>
<text x="1053.8" y="1020.8" font-size="33" font-weight="bold" fill="#151515" textLength="20.6" lengthAdjust="spacingAndGlyphs">A</text>
<text x="1054.0" y="1075.9" font-size="33" font-weight="bold" fill="#151515" textLength="20.1" lengthAdjust="spacingAndGlyphs">B</text>
<text x="1020.0" y="1148.4" font-size="33" font-weight="bold" fill="#151515" textLength="19.5" lengthAdjust="spacingAndGlyphs">E</text>
<circle cx="1097.7" cy="1243.3" r="9.2" fill="#fff" stroke="#444645" stroke-width="1.8"/>
<circle cx="1097.7" cy="1243.3" r="3.2" fill="#444645" stroke="none" stroke-width="0"/>
<circle cx="1097.7" cy="1286.7" r="9.2" fill="#fff" stroke="#444645" stroke-width="1.8"/>
<circle cx="1097.7" cy="1286.7" r="3.2" fill="#444645" stroke="none" stroke-width="0"/>
<text x="1055.5" y="1254.3" font-size="33" font-weight="bold" fill="#151515" textLength="20.6" lengthAdjust="spacingAndGlyphs">Y</text>
<text x="1015.3" y="1299.0" font-size="35" font-weight="normal" fill="#1a1a1a" textLength="44.3" lengthAdjust="spacingAndGlyphs" stroke="#1a1a1a" stroke-width="0.6">GND</text>
<text x="1134.1" y="1273.3" font-size="33" font-weight="normal" fill="#151515" textLength="258.6" lengthAdjust="spacingAndGlyphs">Выход с открытым</text>
<text x="1134.3" y="1307.3" font-size="33" font-weight="normal" fill="#151515" textLength="178.4" lengthAdjust="spacingAndGlyphs">коллектором</text>
<defs><mask id="km" maskUnits="userSpaceOnUse" x="1100" y="1100" width="400" height="400"><rect x="1100" y="1100" width="400" height="400" fill="#fff"/><path d="M1321,1305.5 L1339.5,1305.5 L1339.5,1351 L1386,1305.5 L1408.5,1305.5 L1365,1351.5 L1388,1375 L1398,1368 L1408.5,1408.5 L1367,1397 L1375,1388.5 L1339.5,1359 L1339.5,1398 L1321,1398 L1321,1360.5 L1284,1360.5 L1284,1342.5 L1321,1342.5 Z" fill="#000"/></mask></defs>
<g opacity="0.35">
<path d="M1372.9,1229.9 L1378.4,1218.8 A141.2,141.2 0 0 1 1410.2,1227.3 L1409.4,1239.7 A129.5,129.5 0 0 1 1435.2,1254.5 L1445.5,1247.7 A141.2,141.2 0 0 1 1468.8,1271.0 L1462.0,1281.3 A129.5,129.5 0 0 1 1476.8,1307.1 L1489.2,1306.3 A141.2,141.2 0 0 1 1497.7,1338.1 L1486.6,1343.6 A129.5,129.5 0 0 1 1486.6,1373.4 L1497.7,1378.9 A141.2,141.2 0 0 1 1489.2,1410.7 L1476.8,1409.9 A129.5,129.5 0 0 1 1462.0,1435.7 L1468.8,1446.0 A141.2,141.2 0 0 1 1445.5,1469.3 L1435.2,1462.5 A129.5,129.5 0 0 1 1409.4,1477.3 L1410.2,1489.7 A141.2,141.2 0 0 1 1378.4,1498.2 L1372.9,1487.1 A129.5,129.5 0 0 1 1343.1,1487.1 L1337.6,1498.2 A141.2,141.2 0 0 1 1305.8,1489.7 L1306.6,1477.3 A129.5,129.5 0 0 1 1280.8,1462.5 L1270.5,1469.3 A141.2,141.2 0 0 1 1247.2,1446.0 L1254.0,1435.7 A129.5,129.5 0 0 1 1239.2,1409.9 L1226.8,1410.7 A141.2,141.2 0 0 1 1218.3,1378.9 L1229.4,1373.4 A129.5,129.5 0 0 1 1229.4,1343.6 L1218.3,1338.1 A141.2,141.2 0 0 1 1226.8,1306.3 L1239.2,1307.1 A129.5,129.5 0 0 1 1254.0,1281.3 L1247.2,1271.0 A141.2,141.2 0 0 1 1270.5,1247.7 L1280.8,1254.5 A129.5,129.5 0 0 1 1306.6,1239.7 L1305.8,1227.3 A141.2,141.2 0 0 1 1337.6,1218.8 L1343.1,1229.9 A129.5,129.5 0 0 1 1372.9,1229.9 Z" fill="none" stroke="#2351e0" stroke-width="4.2" stroke-linejoin="round"/>
<path d="M1374.1,1245.6 L1380.6,1224.8 A135.6,135.6 0 0 1 1405.3,1231.4 L1400.5,1252.7 A114,114 0 0 1 1428.3,1268.8 L1444.4,1254.0 A135.6,135.6 0 0 1 1462.5,1272.1 L1447.7,1288.2 A114,114 0 0 1 1463.8,1316.0 L1485.1,1311.2 A135.6,135.6 0 0 1 1491.7,1335.9 L1470.9,1342.4 A114,114 0 0 1 1470.9,1374.6 L1491.7,1381.1 A135.6,135.6 0 0 1 1485.1,1405.8 L1463.8,1401.0 A114,114 0 0 1 1447.7,1428.8 L1462.5,1444.9 A135.6,135.6 0 0 1 1444.4,1463.0 L1428.3,1448.2 A114,114 0 0 1 1400.5,1464.3 L1405.3,1485.6 A135.6,135.6 0 0 1 1380.6,1492.2 L1374.1,1471.4 A114,114 0 0 1 1341.9,1471.4 L1335.4,1492.2 A135.6,135.6 0 0 1 1310.7,1485.6 L1315.5,1464.3 A114,114 0 0 1 1287.7,1448.2 L1271.6,1463.0 A135.6,135.6 0 0 1 1253.5,1444.9 L1268.3,1428.8 A114,114 0 0 1 1252.2,1401.0 L1230.9,1405.8 A135.6,135.6 0 0 1 1224.3,1381.1 L1245.1,1374.6 A114,114 0 0 1 1245.1,1342.4 L1224.3,1335.9 A135.6,135.6 0 0 1 1230.9,1311.2 L1252.2,1316.0 A114,114 0 0 1 1268.3,1288.2 L1253.5,1272.1 A135.6,135.6 0 0 1 1271.6,1254.0 L1287.7,1268.8 A114,114 0 0 1 1315.5,1252.7 L1310.7,1231.4 A135.6,135.6 0 0 1 1335.4,1224.8 L1341.9,1245.6 A114,114 0 0 1 1374.1,1245.6 Z M1462.2,1358.5 A104.2,104.2 0 1 0 1253.8,1358.5 A104.2,104.2 0 1 0 1462.2,1358.5 Z" fill="#2351e0" fill-rule="evenodd"/>
<circle cx="1358" cy="1358.5" r="96.5" fill="none" stroke="#2351e0" stroke-width="7.2"/>
<circle cx="1358" cy="1358.5" r="89" fill="#2351e0" mask="url(#km)"/>
</g>
</svg>
</body></html>
